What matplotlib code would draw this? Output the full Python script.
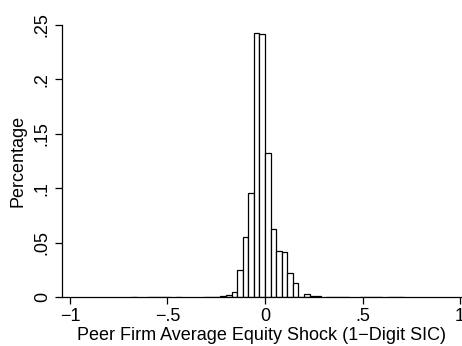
import numpy as np
import matplotlib.pyplot as plt

plt.rcParams['font.family'] = ['Liberation Sans', 'DejaVu Sans']

# bin width and bin indices (bin k spans k*w .. (k+1)*w)
bin_width = 1 / 35
bin_index = [-24, -21, -20, -19, -18, -16, -11, -10, -9,
             -8, -7, -6, -5, -4, -3, -2, -1, 0, 1, 2, 3, 4, 5, 6, 7, 8, 9,
             11, 12, 13, 14, 17, 18, 19, 20, 22, 23, 24]
share = [0.0003, 0.0003, 0.0003, 0.0003, 0.0003, 0.0003, 0.0003, 0.0003, 0.0004,
         0.0007, 0.0018, 0.0046, 0.025, 0.0556, 0.0957, 0.243, 0.242, 0.132, 0.0627,
         0.0426, 0.0417, 0.022, 0.0127, 0.0, 0.0025, 0.0008, 0.001,
         0.0003, 0.0003, 0.0003, 0.0003, 0.0003, 0.0003, 0.0003, 0.0003, 0.0003, 0.0003, 0.0003]

xticks = [-1, -0.5, 0, 0.5, 1]
xtick_labels = ['\u22121', '\u2212.5', '0', '.5', '1']
yticks = [0, 0.05, 0.1, 0.15, 0.2, 0.25]
ytick_labels = ['0', '.05', '.1', '.15', '.2', '.25']

fig = plt.figure(figsize=(4.62, 3.46), dpi=100)
ax = fig.add_axes([0.134, 0.141, 0.864, 0.787])

left_edges = np.array(bin_index) * bin_width
ax.bar(left_edges, share, width=bin_width, align='edge',
       facecolor='white', edgecolor='black', linewidth=0.9)

ax.set_xlim(-1.041, 1.005)
ax.set_ylim(0, 0.25)
ax.set_xticks(xticks)
ax.set_xticklabels(xtick_labels)
ax.set_yticks(yticks)
ax.set_yticklabels(ytick_labels, rotation=90, va='center')

for side in ['top', 'right']:
    ax.spines[side].set_visible(False)
for side in ['left', 'bottom']:
    ax.spines[side].set_linewidth(0.9)

ax.tick_params(axis='both', direction='out', length=5, width=0.9, labelsize=13, pad=3)
ax.set_xlabel('Peer Firm Average Equity Shock (1\u2212Digit SIC)', fontsize=13, labelpad=1)
ax.set_ylabel('Percentage', fontsize=13, labelpad=5)

fig.savefig('out.png', dpi=100)
